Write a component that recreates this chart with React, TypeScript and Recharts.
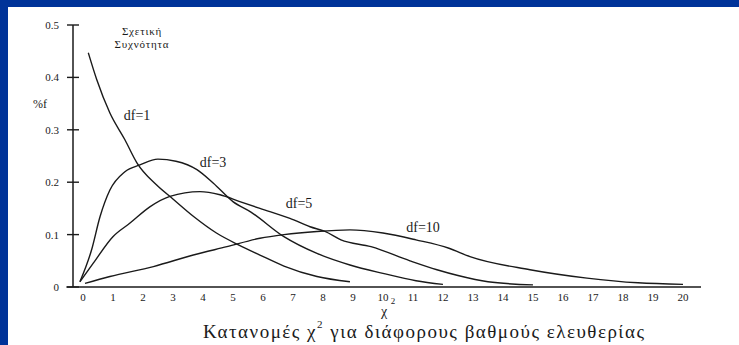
import React from 'react';
import { LineChart, Line, XAxis, YAxis, ReferenceLine } from 'recharts';

// χ² densities
const xTicks = [0, 1, 2, 3, 4, 5, 6, 7, 8, 9, 10, 11, 12, 13, 14, 15, 16, 17, 18, 19, 20];
const yTicks = [0, 0.1, 0.2, 0.3, 0.4, 0.5];

const df1X = [0.18, 0.46, 0.9, 1.4, 1.8, 2.45, 3.0, 3.7, 4.45, 5.2, 5.9, 6.7, 7.8, 8.9];
const df1Y = [0.447, 0.396, 0.332, 0.281, 0.237, 0.195, 0.168, 0.134, 0.103, 0.08, 0.061, 0.04, 0.02, 0.01];

const df3X = [-0.1, 0.29, 0.57, 0.9, 1.4, 1.9, 2.5, 3.1, 3.8, 4.35, 5.0, 5.6, 6.7, 7.8, 8.9, 10.0, 11.1, 12.0];
const df3Y = [0.01, 0.071, 0.134, 0.185, 0.22, 0.233, 0.244, 0.24, 0.224, 0.198, 0.163, 0.143, 0.096, 0.064, 0.042, 0.026, 0.012, 0.005];

const df5X = [-0.1, 0.34, 1.0, 1.57, 2.23, 2.9, 3.9, 4.57, 5.23, 5.9, 6.9, 7.57, 8.07, 8.6, 9.6, 10.9, 11.8, 12.5, 13.5, 15.0];
const df5Y = [0.01, 0.045, 0.096, 0.122, 0.153, 0.173, 0.182, 0.176, 0.163, 0.15, 0.131, 0.115, 0.106, 0.09, 0.077, 0.05, 0.033, 0.022, 0.01, 0.004];

const df10X = [0.07, 0.9, 2.35, 3.68, 4.8, 5.9, 6.7, 7.8, 8.9, 10.0, 11.1, 12.2, 12.9, 14.9, 16.8, 18.5, 20.0];
const df10Y = [0.007, 0.02, 0.039, 0.061, 0.077, 0.093, 0.1, 0.106, 0.109, 0.103, 0.09, 0.074, 0.058, 0.033, 0.017, 0.008, 0.005];

const zip = (xs: number[], ys: number[]) => xs.map((x, i) => ({ x, y: ys[i] }));

const series = [
  { name: 'df=1', data: zip(df1X, df1Y) },
  { name: 'df=3', data: zip(df3X, df3Y) },
  { name: 'df=5', data: zip(df5X, df5Y) },
  { name: 'df=10', data: zip(df10X, df10Y) },
];

const serif = '"Liberation Serif", "Times New Roman", serif';
const ink = '#1a1a1a';
const plotLeft = 73;

function YTick(props: any) {
  const { y, payload } = props;
  return (
    <g>
      <line x1={plotLeft - 6} x2={plotLeft + 6} y1={y} y2={y} stroke={ink} strokeWidth={1.4} />
      <text x={59} y={y} textAnchor="end" dominantBaseline="central" style={{ fontFamily: serif }} fontSize={11} fill={ink}>
        {payload.value === 0 ? '0' : payload.value.toFixed(1)}
      </text>
    </g>
  );
}

export default function App() {
  return (
    <div style={{ position: 'absolute', left: 0, top: 0, width: 739, height: 345, background: '#003399' }}>
      <div style={{ position: 'absolute', left: 8, top: 7, right: 0, bottom: 0, background: '#fff' }} />
      <div style={{ position: 'absolute', left: 0, top: 0 }}>
        <LineChart width={739} height={345} margin={{ top: 25, right: 38, bottom: 28, left: 13 }}>
          <XAxis
            type="number"
            dataKey="x"
            domain={[-0.33, 20.6]}
            ticks={xTicks}
            interval={0}
            axisLine={false}
            tickLine={false}
            tickSize={6}
            tickMargin={0}
            height={30}
            allowDuplicatedCategory={false}
            tick={{ fontFamily: serif, fontSize: 11, fill: ink }}
          />
          <YAxis
            type="number"
            dataKey="y"
            domain={[0, 0.5]}
            ticks={yTicks}
            width={60}
            axisLine={{ stroke: ink, strokeWidth: 1.5 }}
            tickLine={false}
            tick={<YTick />}
          />
          <ReferenceLine
            segment={[{ x: -0.55, y: 0 }, { x: 20.6, y: 0 }]}
            stroke={ink}
            strokeWidth={1.6}
            ifOverflow="visible"
          />
          {series.map((s) => (
            <Line
              key={s.name}
              data={s.data}
              dataKey="y"
              type="monotone"
              stroke={ink}
              strokeWidth={1.4}
              dot={false}
              isAnimationActive={false}
            />
          ))}
        </LineChart>
      </div>
      <svg width={739} height={345} style={{ position: 'absolute', left: 0, top: 0, pointerEvents: 'none', fontFamily: serif }}>
        <g fill={ink} textAnchor="middle" dominantBaseline="central">
          <text x={142} y={31} fontSize={11} letterSpacing={0.8}>Σχετική</text>
          <text x={142} y={44} fontSize={11} letterSpacing={0.8}>Συχνότητα</text>
          <text x={40} y={104} fontSize={12}>%f</text>
          <text x={137} y={115} fontSize={14}>df=1</text>
          <text x={213} y={162} fontSize={14}>df=3</text>
          <text x={299} y={203} fontSize={14}>df=5</text>
          <text x={423} y={227} fontSize={14}>df=10</text>
          <text x={384} y={311} fontSize={14}>χ</text>
          <text x={393} y={301} fontSize={9}>2</text>
        </g>
        <text x={203} y={331} fontSize={19} letterSpacing={1.5} fill={ink} dominantBaseline="central">
          Κατανομές χ<tspan fontSize={11} dy={-7}>2</tspan>
          <tspan dy={7}> για διάφορους βαθμούς ελευθερίας</tspan>
        </text>
      </svg>
    </div>
  );
}
